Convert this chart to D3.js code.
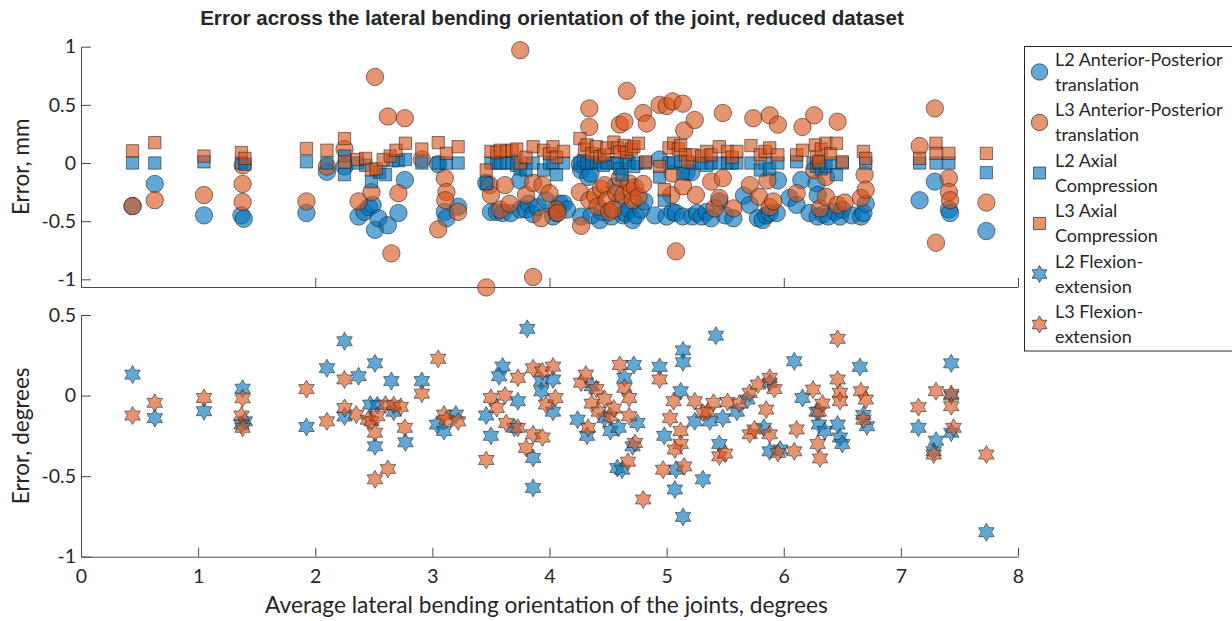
<!DOCTYPE html>
<html>
<head>
<meta charset="utf-8">
<script src="https://cdn.jsdelivr.net/npm/d3@7"></script>
<style>
  body { margin: 0; background: #fff; }
  svg { display: block; }
</style>
</head>
<body>
<svg id="chart" width="1232" height="621"></svg>
<script>
// ---- tick values ----
const xTicks = [0, 1, 2, 3, 4, 5, 6, 7, 8];
const topXTicks = [0, 2, 4, 6, 8];
const topYTicks = [-1, -0.5, 0, 0.5, 1];
const bottomYTicks = [-1, -0.5, 0, 0.5];

// ---- series: [average lateral bending (deg), error] ----
const l2ApTranslation = [
  [0.44,-0.37],[0.63,-0.18],[1.05,-0.45],[1.37,-0.45],[1.39,-0.48],[1.925,-0.43],
  [2.10,-0.075],[2.25,-0.03],[2.37,-0.46],[2.42,-0.42],[2.46,-0.38],[2.49,-0.36],
  [2.51,-0.575],[2.54,-0.475],[2.62,-0.535],[2.71,-0.43],[2.765,-0.146],
  [3.05,-0.01],[3.106,-0.42],[3.12,-0.475],[3.22,-0.375],[3.46,-0.17],[3.50,-0.42],
  [3.55,-0.42],[3.60,-0.43],[3.67,-0.43],[3.75,-0.40],[3.75,-0.15],[3.80,-0.40],
  [3.82,-0.35],[3.86,-0.44],[3.90,-0.38],[3.97,-0.32],[4.03,-0.46],[4.06,-0.43],
  [4.09,-0.35],[4.12,-0.35],[4.15,-0.40],[4.26,-0.01],[4.27,-0.06],[4.27,-0.46],
  [4.33,-0.12],[4.35,-0.09],[4.36,-0.45],[4.43,-0.49],[4.45,-0.42],[4.53,-0.46],
  [4.56,-0.2],[4.60,-0.33],[4.63,-0.45],[4.65,-0.43],[4.68,-0.40],[4.71,-0.49],
  [4.74,-0.45],[4.78,-0.40],[4.81,-0.33],[4.90,-0.45],[4.94,0.03],[5.00,-0.46],
  [5.05,-0.42],[5.08,-0.43],[5.14,-0.46],[5.17,-0.08],[5.21,-0.08],[5.22,-0.46],
  [5.26,-0.43],[5.30,-0.46],[5.34,-0.42],[5.38,-0.475],[5.45,-0.33],[5.50,-0.45],
  [5.57,-0.475],[5.66,-0.28],[5.71,-0.36],[5.78,-0.475],[5.82,-0.49],[5.85,-0.45],
  [5.88,-0.43],[5.94,-0.43],[5.95,-0.15],[6.05,-0.3],[6.11,-0.36],[6.15,-0.146],
  [6.22,-0.43],[6.28,-0.175],[6.29,-0.275],[6.29,-0.46],[6.34,-0.44],[6.38,-0.46],
  [6.44,-0.42],[6.48,-0.46],[6.50,-0.40],[6.58,-0.45],[6.66,-0.46],[6.68,-0.43],
  [6.70,-0.35],[7.16,-0.32],[7.29,-0.16],[7.41,-0.40],[7.42,-0.43],[7.73,-0.585]
];
const l3ApTranslation = [
  [0.44,-0.37],[0.63,-0.32],[1.05,-0.275],[1.38,-0.18],[1.38,-0.335],[1.38,-0.02],
  [1.925,-0.33],[2.10,-0.03],[2.25,0.12],[2.37,-0.33],[2.48,-0.25],[2.51,0.74],
  [2.62,0.40],[2.65,-0.777],[2.71,-0.26],[2.765,0.385],[2.91,0.03],[3.05,-0.57],
  [3.106,-0.13],[3.12,-0.25],[3.11,-0.32],[3.22,-0.42],[3.46,-1.07],[3.49,-0.19],
  [3.50,-0.275],[3.58,-0.40],[3.62,-0.19],[3.66,-0.35],[3.75,0.97],[3.80,-0.275],
  [3.86,-0.17],[3.86,-0.98],[3.93,-0.475],[3.94,-0.19],[4.00,-0.26],[4.06,-0.40],
  [4.07,-0.43],[4.26,-0.25],[4.27,-0.54],[4.34,0.47],[4.34,0.31],[4.34,-0.32],
  [4.39,-0.28],[4.41,-0.375],[4.44,-0.22],[4.47,-0.19],[4.49,-0.32],[4.51,-0.42],
  [4.54,-0.40],[4.57,-0.26],[4.60,0.33],[4.60,-0.13],[4.63,-0.275],[4.64,0.355],
  [4.66,0.62],[4.68,-0.175],[4.70,-0.24],[4.71,-0.32],[4.73,-0.21],[4.76,-0.29],
  [4.80,0.43],[4.80,-0.18],[4.83,0.34],[4.94,0.50],[5.00,0.49],[5.04,-0.275],
  [5.05,0.53],[5.05,-0.09],[5.08,-0.76],[5.14,0.51],[5.14,-0.2],[5.15,0.28],
  [5.24,0.37],[5.25,-0.275],[5.38,-0.16],[5.41,-0.39],[5.45,-0.30],[5.48,0.43],
  [5.48,-0.13],[5.57,-0.39],[5.71,-0.19],[5.74,0.385],[5.79,-0.29],[5.86,-0.15],
  [5.88,0.41],[5.88,-0.38],[5.91,-0.33],[5.95,0.33],[6.11,-0.26],[6.16,0.31],
  [6.26,0.41],[6.26,-0.06],[6.31,-0.39],[6.36,-0.12],[6.36,-0.29],[6.46,0.355],
  [6.46,-0.36],[6.52,-0.34],[6.66,-0.30],[6.69,-0.10],[6.70,-0.23],[7.16,0.146],
  [7.29,0.47],[7.30,-0.685],[7.41,-0.13],[7.41,-0.25],[7.42,-0.32],[7.73,-0.34]
];
const l2AxialCompression = [
  [0.44,0.0],[0.63,0.0],[1.05,0.01],[1.37,0.0],[1.40,-0.01],[1.925,0.01],[2.10,0.0],
  [2.25,0.06],[2.25,-0.1],[2.36,0.0],[2.43,-0.02],[2.48,-0.16],[2.55,-0.08],
  [2.60,-0.1],[2.66,0.02],[2.71,0.02],[2.77,0.03],[2.91,0.0],[3.05,0.0],[3.12,0.0],
  [3.22,0.0],[3.46,-0.175],[3.50,0.0],[3.55,0.0],[3.58,0.0],[3.63,0.0],[3.68,0.0],
  [3.72,-0.02],[3.75,-0.05],[3.80,-0.06],[3.86,0.0],[3.95,-0.06],[4.00,0.0],
  [4.03,0.0],[4.06,-0.1],[4.12,0.0],[4.26,0.0],[4.29,0.02],[4.32,0.0],[4.36,0.0],
  [4.40,0.01],[4.43,0.0],[4.46,-0.02],[4.49,0.0],[4.55,0.0],[4.58,0.0],[4.60,-0.05],
  [4.62,-0.1],[4.66,0.02],[4.68,0.0],[4.72,-0.03],[4.75,0.0],[4.82,0.0],[4.94,-0.12],
  [4.98,-0.32],[5.02,0.0],[5.06,0.0],[5.12,0.01],[5.14,-0.09],[5.22,0.0],[5.30,0.0],
  [5.34,-0.02],[5.38,0.0],[5.45,0.0],[5.52,0.0],[5.56,0.0],[5.60,0.0],[5.72,0.0],
  [5.80,-0.06],[5.84,0.0],[5.88,-0.05],[5.95,0.0],[6.11,0.01],[6.25,0.0],
  [6.28,-0.03],[6.30,0.0],[6.32,-0.05],[6.36,-0.03],[6.40,0.0],[6.45,-0.1],
  [6.50,0.0],[6.70,0.0],[7.16,0.0],[7.30,0.0],[7.41,0.0],[7.73,-0.083]
];
const l3AxialCompression = [
  [0.44,0.105],[0.63,0.175],[1.05,0.06],[1.37,0.09],[1.40,0.04],[1.925,0.125],
  [2.10,0.11],[2.25,0.21],[2.25,0.01],[2.36,0.03],[2.43,0.04],[2.48,-0.06],
  [2.52,-0.05],[2.58,0.03],[2.64,0.06],[2.69,0.11],[2.77,0.17],[2.91,0.12],
  [3.05,0.175],[3.12,0.083],[3.22,0.14],[3.46,-0.06],[3.50,0.1],[3.55,0.09],
  [3.58,0.11],[3.63,0.1],[3.68,0.11],[3.72,0.12],[3.75,0.0],[3.80,0.05],[3.86,0.14],
  [3.95,0.11],[4.00,0.08],[4.03,0.14],[4.06,0.05],[4.12,0.1],[4.26,0.21],[4.30,0.12],
  [4.32,0.155],[4.36,0.08],[4.40,0.14],[4.43,0.055],[4.47,0.07],[4.49,0.13],
  [4.55,0.18],[4.58,0.13],[4.60,0.097],[4.64,0.15],[4.66,0.09],[4.70,0.12],
  [4.72,0.14],[4.76,0.17],[4.82,0.01],[4.94,-0.03],[4.98,-0.23],[5.02,0.13],
  [5.06,0.17],[5.10,0.12],[5.12,0.15],[5.16,0.07],[5.18,0.01],[5.22,0.07],[5.30,0.06],
  [5.34,0.1],[5.38,0.07],[5.45,0.14],[5.52,0.1],[5.56,0.05],[5.60,0.1],[5.72,0.15],
  [5.80,0.07],[5.84,0.1],[5.88,0.13],[5.95,0.07],[6.11,0.07],[6.16,0.11],[6.27,0.155],
  [6.28,0.05],[6.30,0.01],[6.32,0.12],[6.36,0.17],[6.40,0.08],[6.45,0.17],[6.50,0.01],
  [6.68,0.1],[6.70,0.04],[7.16,0.04],[7.30,0.17],[7.30,0.083],[7.41,0.083],[7.73,0.083]
];
const l2FlexionExtension = [
  [0.44,0.13],[0.63,-0.14],[1.05,-0.097],[1.38,0.043],[1.40,-0.16],[1.37,-0.18],
  [1.925,-0.195],[2.10,0.17],[2.25,0.337],[2.25,-0.13],[2.37,0.12],[2.51,0.2],
  [2.47,-0.056],[2.53,-0.06],[2.51,-0.315],[2.65,0.09],[2.67,-0.1],[2.77,-0.29],
  [2.91,0.09],[3.04,-0.18],[3.10,-0.22],[3.20,-0.118],[3.46,-0.124],[3.50,-0.25],
  [3.60,0.18],[3.57,0.12],[3.73,-0.035],[3.70,-0.2],[3.81,0.414],[3.86,-0.387],
  [3.86,-0.573],[3.93,0.09],[3.93,0.027],[4.03,0.1],[4.03,-0.1],[4.24,-0.15],
  [4.32,-0.25],[4.36,0.058],[4.52,-0.22],[4.47,-0.14],[4.59,-0.2],[4.64,0.11],
  [4.72,0.19],[4.75,-0.17],[4.58,-0.45],[4.71,-0.315],[4.62,-0.46],[4.94,0.178],
  [4.98,-0.25],[5.08,-0.46],[5.07,-0.583],[5.14,-0.753],[5.14,0.28],[5.14,0.207],
  [5.12,0.027],[5.24,-0.16],[5.37,-0.16],[5.42,0.372],[5.45,-0.3],[5.31,-0.52],
  [5.48,-0.14],[5.60,-0.1],[5.69,-0.025],[5.88,0.08],[5.88,-0.346],[5.83,-0.2],
  [6.09,0.213],[6.16,-0.015],[5.97,-0.335],[6.28,-0.1],[6.30,-0.18],[6.35,-0.22],
  [6.46,-0.18],[6.48,-0.26],[6.50,-0.3],[6.65,0.178],[6.68,-0.12],[6.71,-0.19],
  [7.15,-0.2],[7.30,-0.28],[7.28,-0.346],[7.43,0.2],[7.43,0.0],[7.43,-0.23],
  [7.73,-0.848]
];
const l3FlexionExtension = [
  [0.44,-0.124],[0.63,-0.045],[1.05,-0.015],[1.38,-0.017],[1.37,-0.124],[1.38,-0.2],
  [1.925,0.04],[2.10,-0.16],[2.25,0.1],[2.25,-0.077],[2.35,-0.118],[2.45,-0.15],
  [2.48,-0.16],[2.51,-0.23],[2.51,-0.52],[2.53,-0.128],[2.62,-0.455],[2.60,-0.056],
  [2.67,-0.06],[2.73,-0.07],[2.765,-0.2],[2.91,0.012],[3.05,0.228],[3.10,-0.118],
  [3.12,-0.15],[3.22,-0.16],[3.46,-0.4],[3.50,-0.015],[3.55,-0.077],[3.62,0.0],
  [3.63,-0.17],[3.73,0.11],[3.73,-0.2],[3.80,-0.325],[3.86,0.17],[3.86,-0.24],
  [3.94,0.15],[3.94,-0.26],[3.97,-0.056],[4.03,0.18],[4.05,-0.015],[4.27,0.08],
  [4.31,0.13],[4.33,-0.2],[4.36,-0.05],[4.40,0.04],[4.42,-0.1],[4.47,-0.02],
  [4.52,-0.13],[4.55,-0.08],[4.60,0.19],[4.64,0.048],[4.68,-0.015],[4.68,-0.128],
  [4.73,-0.294],[4.67,-0.41],[4.80,-0.645],[4.94,0.1],[4.97,-0.46],[5.03,-0.14],
  [5.06,-0.035],[5.12,-0.22],[5.12,-0.3],[5.07,-0.335],[5.15,-0.44],[5.24,-0.035],
  [5.31,-0.107],[5.35,-0.1],[5.40,-0.045],[5.45,-0.377],[5.50,-0.36],[5.52,-0.04],
  [5.62,-0.05],[5.71,0.017],[5.78,0.068],[5.88,0.11],[5.92,0.04],[5.85,-0.087],
  [5.71,-0.24],[5.75,-0.21],[5.88,-0.24],[5.95,-0.356],[6.09,-0.346],[6.11,-0.21],
  [6.25,0.037],[6.29,-0.3],[6.31,-0.39],[6.30,-0.1],[6.33,-0.05],[6.46,0.352],
  [6.46,0.1],[6.48,0.017],[6.48,-0.035],[6.66,0.027],[6.70,-0.025],[6.68,-0.15],
  [7.15,-0.072],[7.30,0.027],[7.28,-0.366],[7.43,0.01],[7.43,-0.066],[7.45,-0.2],
  [7.73,-0.366]
];

const legendLabels = [
  ["L2 Anterior-Posterior", "translation"],
  ["L3 Anterior-Posterior", "translation"],
  ["L2 Axial", "Compression"],
  ["L3 Axial", "Compression"],
  ["L2 Flexion-", "extension"],
  ["L3 Flexion-", "extension"]
];

// ---- appearance ----
const BLUE = "#0072BD";
const ORANGE = "#D95319";
const FONT = "Lato, 'Open Sans', sans-serif";
const TEXT = "#262626";
const AXIS = "#4a4a4a";

const svg = d3.select("#chart");

const x = d3.scaleLinear().domain([0, 8]).range([81, 1018]);
const yTop = d3.scaleLinear().domain([-1.066, 1]).range([287, 46.7]);
const yBottom = d3.scaleLinear().domain([-1, 0.5]).range([556.7, 315]);

// plain hyphen-minus tick labels
const tickFmt = d => String(d);

// six-pointed star (hexagram) outline
function hexagram(R) {
  const r = R / Math.sqrt(3);
  const pts = d3.range(12).map(i => {
    const a = -Math.PI / 2 + i * Math.PI / 6;
    const rad = i % 2 === 0 ? R : r;
    return [rad * Math.cos(a), rad * Math.sin(a)];
  });
  return d3.line().curve(d3.curveLinearClosed)(pts);
}

const shapes = {
  circle: d3.symbol().type(d3.symbolCircle).size(Math.PI * 8.7 * 8.7)(),
  square: d3.symbol().type(d3.symbolSquare).size(12.3 * 12.3)(),
  star: hexagram(9)
};
const legendShapes = {
  circle: d3.symbol().type(d3.symbolCircle).size(Math.PI * 8.2 * 8.2)(),
  square: d3.symbol().type(d3.symbolSquare).size(12 * 12)(),
  star: hexagram(8.5)
};

const series = [
  { data: l2ApTranslation, shape: "circle", color: BLUE, y: yTop },
  { data: l3ApTranslation, shape: "circle", color: ORANGE, y: yTop },
  { data: l2AxialCompression, shape: "square", color: BLUE, y: yTop },
  { data: l3AxialCompression, shape: "square", color: ORANGE, y: yTop },
  { data: l2FlexionExtension, shape: "star", color: BLUE, y: yBottom },
  { data: l3FlexionExtension, shape: "star", color: ORANGE, y: yBottom }
];

function styleAxis(g) {
  g.select(".domain").attr("stroke", AXIS).attr("stroke-width", 1);
  g.selectAll(".tick line").attr("stroke", AXIS).attr("stroke-width", 1);
  g.selectAll(".tick text").attr("fill", TEXT)
    .style("font-family", FONT).style("font-size", "19.5px");
}

// ---- top panel axes ----
svg.append("g").attr("transform", `translate(0,${yTop.range()[0]})`)
  .call(d3.axisBottom(x).tickValues(topXTicks).tickFormat("").tickSize(-9).tickSizeOuter(0))
  .call(styleAxis);
svg.append("g").attr("transform", `translate(${x.range()[0]},0)`)
  .call(d3.axisLeft(yTop).tickValues(topYTicks).tickFormat(tickFmt).tickSize(-10).tickSizeOuter(0).tickPadding(5))
  .call(styleAxis);

// ---- bottom panel axes ----
svg.append("g").attr("transform", `translate(0,${yBottom.range()[0]})`)
  .call(d3.axisBottom(x).tickValues(xTicks).tickFormat(tickFmt).tickSize(-9).tickSizeOuter(0).tickPadding(12))
  .call(styleAxis);
svg.append("g").attr("transform", `translate(${x.range()[0]},0)`)
  .call(d3.axisLeft(yBottom).tickValues(bottomYTicks).tickFormat(tickFmt).tickSize(-10).tickSizeOuter(0).tickPadding(5))
  .call(styleAxis);

// ---- markers ----
series.forEach(s => {
  svg.append("g").selectAll("path").data(s.data).join("path")
    .attr("d", shapes[s.shape])
    .attr("transform", d => `translate(${x(d[0])},${s.y(d[1])})`)
    .attr("fill", s.color).attr("fill-opacity", 0.62)
    .attr("stroke", "#1a1a1a").attr("stroke-opacity", 0.6).attr("stroke-width", 0.9);
});

// ---- titles and labels ----
svg.append("text").attr("x", 552).attr("y", 25).attr("text-anchor", "middle")
  .style("font-family", "'Liberation Sans', Arial, sans-serif").style("font-weight", "bold")
  .style("font-size", "20.6px").attr("fill", TEXT)
  .text("Error across the lateral bending orientation of the joint, reduced dataset");

svg.append("text").attr("transform", `translate(29,${(yTop.range()[0] + yTop.range()[1]) / 2}) rotate(-90)`)
  .attr("text-anchor", "middle").style("font-family", FONT).style("font-size", "22.5px")
  .attr("fill", TEXT).text("Error, mm");
svg.append("text").attr("transform", `translate(29,${(yBottom.range()[0] + yBottom.range()[1]) / 2}) rotate(-90)`)
  .attr("text-anchor", "middle").style("font-family", FONT).style("font-size", "22.5px")
  .attr("fill", TEXT).text("Error, degrees");
svg.append("text").attr("x", (x.range()[0] + x.range()[1]) / 2 - 3).attr("y", 613)
  .attr("text-anchor", "middle").style("font-family", FONT).style("font-size", "22.7px")
  .attr("fill", TEXT).text("Average lateral bending orientation of the joints, degrees");

// ---- legend ----
const legend = svg.append("g");
legend.append("rect").attr("x", 1024.5).attr("y", 46.5).attr("width", 240).attr("height", 304.5)
  .attr("fill", "#fff").attr("stroke", "#262626").attr("stroke-width", 1);
series.forEach((s, i) => {
  const cy = 72 + i * 50.5;
  legend.append("path").attr("d", legendShapes[s.shape])
    .attr("transform", `translate(1039.5,${cy})`)
    .attr("fill", s.color).attr("fill-opacity", 0.62)
    .attr("stroke", "#1a1a1a").attr("stroke-opacity", 0.7).attr("stroke-width", 0.9);
  legendLabels[i].forEach((line, j) => {
    legend.append("text").attr("x", 1055).attr("y", cy - 12.6 + j * 25.2).attr("dy", "0.35em")
      .style("font-family", FONT).style("font-size", "18px").attr("fill", TEXT).text(line);
  });
});
</script>
</body>
</html>
